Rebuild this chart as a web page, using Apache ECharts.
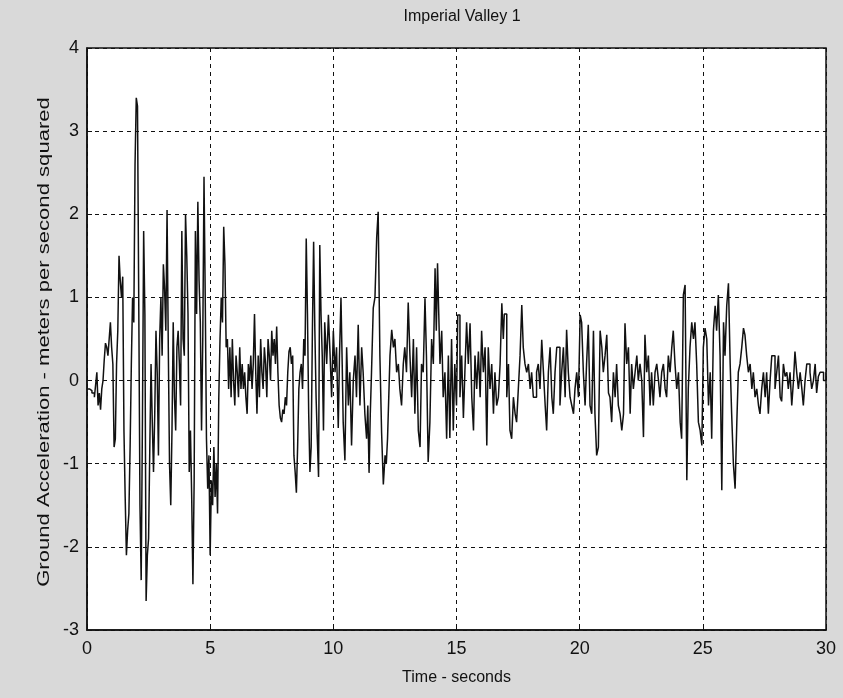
<!DOCTYPE html>
<html>
<head>
<meta charset="utf-8">
<script src="https://cdn.jsdelivr.net/npm/echarts@6/dist/echarts.min.js"></script>
<style>
html,body{margin:0;padding:0;background:#d9d9d9;}
#c{width:843px;height:698px;}
</style>
</head>
<body>
<div id="c"></div>
<script>
var chartTitle = "Imperial Valley 1";
var xAxisName = "Time - seconds";
var yAxisName = "Ground Acceleration - meters per second squared";
var xTicks = [0, 5, 10, 15, 20, 25, 30];
var yTicks = [-3, -2, -1, 0, 1, 2, 3, 4];

var times = [
0.00,0.10,0.20,0.30,0.35,0.40,0.45,0.50,0.55,0.60,0.65,0.70,0.75,0.80,0.85,0.90,0.95,1.00,1.05,1.10,
1.15,1.20,1.25,1.30,1.35,1.40,1.45,1.50,1.55,1.60,1.65,1.70,1.75,1.80,1.85,1.90,1.95,2.00,2.05,2.10,
2.15,2.20,2.25,2.30,2.35,2.40,2.45,2.50,2.55,2.60,2.65,2.70,2.75,2.80,2.85,2.90,2.95,3.00,3.05,3.10,
3.15,3.20,3.25,3.30,3.35,3.40,3.45,3.50,3.55,3.60,3.65,3.70,3.75,3.80,3.85,3.90,3.95,4.00,4.05,4.10,
4.15,4.20,4.25,4.30,4.35,4.40,4.45,4.50,4.55,4.60,4.65,4.70,4.75,4.80,4.85,4.90,4.95,5.00,5.05,5.10,
5.15,5.20,5.25,5.30,5.35,5.40,5.45,5.50,5.55,5.60,5.65,
5.70,5.75,5.80,5.85,5.90,5.95,6.00,6.05,6.10,6.15,6.20,6.25,6.30,6.35,6.40,6.45,6.50,6.55,6.60,6.65,
6.70,6.75,6.80,6.85,6.90,6.95,7.00,7.05,7.10,7.15,7.20,7.25,7.30,7.35,7.40,7.45,7.50,7.55,7.60,7.65,
7.70,7.75,7.80,7.85,7.90,7.95,8.00,8.05,8.10,8.15,8.20,8.25,8.30,8.35,8.40,8.45,8.50,8.55,8.60,8.65,
8.70,8.75,8.80,8.85,8.90,8.95,9.00,9.05,9.10,9.15,9.20,9.25,9.30,9.35,9.40,9.45,9.50,9.55,9.60,9.65,
9.73,9.80,9.87,9.93,10.00,10.07,10.13,10.20,10.25,10.31,10.36,10.40,10.47,10.54,10.61,10.67,10.74,10.81,10.88,10.94,
11.01,11.08,11.15,11.21,11.28,11.35,11.40,11.45,11.50,11.55,11.62,11.69,11.76,11.82,11.89,11.96,12.03,12.10,12.15,12.20,
12.25,12.30,12.37,12.44,12.50,12.57,12.64,12.70,12.77,12.84,12.90,12.97,13.04,13.11,13.18,13.25,13.31,13.38,13.45,13.52,
13.58,13.65,13.72,13.78,13.85,13.92,13.99,14.06,14.13,14.18,14.23,14.28,14.33,14.40,14.46,14.53,14.60,14.67,14.73,14.80,
14.87,14.93,15.00,15.05,15.14,15.21,15.28,15.34,15.41,15.48,15.55,15.62,15.69,15.75,15.82,15.89,15.96,16.02,16.09,16.16,
16.23,16.29,16.36,16.43,16.50,16.56,16.63,16.70,16.77,16.84,16.90,16.94,17.04,17.11,17.17,17.24,17.31,17.38,17.44,17.51,
17.58,17.65,17.71,17.78,17.85,17.92,17.99,18.05,18.12,18.19,18.25,18.32,18.39,18.46,18.53,18.60,18.66,18.73,18.80,18.87,
18.93,19.00,19.07,19.14,19.20,19.27,19.34,19.41,19.47,19.54,19.61,19.68,19.75,19.81,19.88,19.95,20.02,20.08,20.15,20.22,
20.28,20.35,20.42,20.49,20.56,20.62,20.69,20.76,20.83,20.90,20.96,21.03,21.10,21.17,21.23,21.30,21.37,21.44,21.50,21.57,
21.64,21.71,21.78,21.84,21.91,21.98,22.05,22.11,22.18,22.25,22.32,22.38,22.45,22.52,22.59,22.65,22.72,22.79,22.86,22.92,
22.99,23.06,23.13,23.20,23.26,23.33,23.40,23.47,23.53,23.60,23.67,23.74,23.80,23.87,23.94,24.01,24.08,24.14,24.21,24.28,
24.35,24.41,24.48,24.55,24.62,24.68,24.75,24.82,24.89,24.96,25.02,25.09,25.16,25.23,25.30,25.36,25.43,25.50,25.56,25.63,
25.70,25.77,25.84,25.90,25.97,26.04,26.11,26.17,26.24,26.31,26.38,26.44,26.51,26.58,26.65,26.71,26.78,26.85,26.92,26.99,
27.05,27.12,27.19,27.26,27.32,27.39,27.46,27.53,27.59,27.66,27.73,27.80,27.87,27.93,28.00,28.07,28.14,28.20,28.27,28.34,
28.41,28.47,28.54,28.61,28.68,28.74,28.81,28.88,28.95,29.02,29.08,29.15,29.22,29.29,29.35,29.42,29.49,29.56,29.62,29.69,
29.76,29.83,29.90,30.00
];

var accel = [
-0.10,-0.12,-0.15,-0.20,-0.05,0.10,-0.30,-0.15,-0.35,-0.10,0.00,0.25,0.45,0.40,0.30,0.50,0.70,0.40,0.20,-0.80,
-0.70,0.20,0.60,1.50,1.20,1.00,1.25,-0.60,-1.40,-2.10,-1.80,-1.60,-0.80,0.20,1.00,0.70,2.60,3.40,3.30,1.00,
-1.50,-2.40,-0.50,1.80,0.80,-2.65,-2.10,-1.90,-0.80,0.20,-0.50,-1.10,-0.40,0.60,0.10,-0.90,0.50,1.00,0.30,1.40,
1.10,0.60,2.05,0.40,-1.00,-1.50,-0.60,0.70,-0.20,-0.60,0.40,0.60,0.20,-0.30,1.80,0.50,0.30,2.00,1.50,0.80,
-1.10,-0.60,-1.40,-2.45,-1.20,1.80,0.80,2.15,1.20,0.70,-0.60,0.50,2.45,1.00,-0.70,-1.30,-0.90,-2.10,-1.20,-1.50,
-0.80,-1.40,-1.00,-1.60,-0.20,0.50,1.00,0.70,1.85,1.40,0.40,
0.50,-0.10,0.40,-0.20,0.50,0.00,-0.30,0.30,0.10,-0.20,0.40,-0.10,0.20,-0.10,0.10,-0.20,-0.40,0.20,0.00,0.30,
-0.10,0.20,0.80,0.10,-0.40,0.30,-0.20,0.50,0.10,-0.10,0.40,0.20,-0.20,0.50,0.30,0.00,0.60,0.30,0.50,0.20,
0.65,0.10,-0.30,-0.45,-0.50,-0.35,-0.40,-0.20,-0.30,0.10,0.35,0.40,0.20,0.30,-0.90,-1.10,-1.35,-0.80,-0.10,0.10,
0.20,-0.10,0.50,0.30,1.71,0.80,-0.40,-1.10,-0.80,0.60,1.67,0.60,-0.20,-0.70,-1.16,1.63,0.80,0.30,-0.60,0.70,
0.20,0.79,0.30,-0.20,0.60,0.10,0.40,-0.57,0.30,1.00,0.20,-0.50,-0.96,0.40,-0.30,0.10,-0.78,0.00,0.30,-0.20,
0.67,-0.30,0.40,0.10,-0.40,-0.70,-0.30,-1.11,-0.40,0.10,0.87,1.00,1.72,2.03,0.30,-0.63,-1.25,-0.90,-1.00,-0.70,
-0.20,0.30,0.61,0.40,0.50,0.10,0.20,-0.10,-0.30,0.20,0.40,0.10,0.94,0.30,-0.20,0.50,-0.40,0.40,-0.60,-0.80,
0.20,0.10,0.99,0.30,-0.98,-0.50,0.50,0.20,1.35,0.60,1.41,0.80,0.20,0.60,-0.20,0.10,-0.70,0.30,-0.69,0.50,
-0.60,0.20,-0.30,0.79,-0.20,0.30,-0.45,0.10,0.70,0.20,0.69,-0.20,-0.60,0.30,-0.10,0.35,-0.20,0.60,0.10,0.40,
-0.78,0.40,-0.10,0.20,-0.40,0.10,-0.30,-0.20,0.20,0.93,0.50,0.80,-0.20,0.20,-0.60,-0.70,-0.20,-0.40,-0.50,-0.10,
0.30,0.91,0.40,0.20,0.10,0.20,-0.10,0.10,-0.20,-0.20,0.10,0.20,-0.10,0.49,0.10,-0.30,-0.60,0.10,0.40,-0.20,
-0.40,0.10,0.40,0.40,-0.30,0.10,0.40,-0.20,0.61,0.10,-0.20,-0.30,-0.40,-0.10,0.10,-0.20,0.79,0.70,0.10,-0.30,
0.20,0.67,-0.30,-0.40,0.60,-0.40,-0.90,-0.80,0.60,0.40,0.10,0.30,0.55,-0.15,-0.20,-0.50,0.10,-0.20,0.20,-0.30,
-0.40,-0.60,-0.40,0.69,0.20,0.40,-0.40,0.20,-0.10,0.10,0.30,0.00,0.20,0.00,-0.68,0.55,0.10,0.30,-0.30,0.10,
-0.30,0.10,0.20,0.00,-0.20,0.10,0.20,-0.10,-0.20,0.30,0.10,0.40,0.60,0.20,-0.10,0.10,-0.50,-0.70,1.03,1.15,
-1.20,-0.10,0.40,0.70,0.50,0.70,0.20,-0.50,-0.60,-0.78,0.40,0.63,0.50,-0.30,0.10,-0.70,0.60,0.90,0.60,1.03,
0.30,-1.32,0.70,0.30,0.90,1.17,0.20,-0.40,-1.00,-1.30,-0.50,0.10,0.20,0.40,0.63,0.55,0.30,0.10,0.20,-0.10,
0.10,-0.20,-0.10,-0.30,-0.40,-0.10,0.10,-0.20,0.10,-0.40,0.00,0.30,0.30,-0.10,0.10,0.30,-0.20,-0.25,0.20,0.05,
0.10,-0.10,0.10,-0.30,0.00,0.35,0.10,-0.10,0.10,-0.10,-0.30,0.00,0.20,0.20,0.10,-0.10,0.00,0.20,-0.15,0.05,
0.10,0.10,0.00,0.10
];

var seriesData = times.map(function (t, i) { return [t, accel[i]]; });

var chart = echarts.init(document.getElementById('c'), null, {renderer: 'canvas'});
var fontFam = '"Liberation Sans", Arial, sans-serif';
chart.setOption({
  backgroundColor: '#d9d9d9',
  animation: false,
  title: {
    text: chartTitle,
    left: 457, top: 4, textAlign: 'center',
    textStyle: {fontFamily: fontFam, fontSize: 16, fontWeight: 'normal', color: '#111'}
  },
  grid: {
    left: 87, right: 17, top: 48, bottom: 68,
    show: true, backgroundColor: '#ffffff', borderColor: '#111', borderWidth: 1.5
  },
  graphic: [{
    type: 'text',
    x: 45, y: 342,
    rotation: Math.PI / 2,
    scaleX: 1.38,
    style: {
      text: yAxisName,
      fontFamily: fontFam, fontSize: 16,
      fill: '#111',
      align: 'center', verticalAlign: 'middle'
    }
  }],
  xAxis: {
    type: 'value', min: 0, max: 30, interval: 5,
    name: xAxisName, nameLocation: 'middle', nameGap: 40,
    nameTextStyle: {fontFamily: fontFam, fontSize: 16, color: '#111'},
    axisLine: {show: true, onZero: false, lineStyle: {color: '#111', width: 1.5}},
    axisTick: {show: true, inside: true, length: 5, lineStyle: {color: '#111'}},
    axisLabel: {fontFamily: fontFam, fontSize: 18, color: '#111', margin: 10,
      formatter: function (v) { return xTicks.indexOf(v) >= 0 ? String(v) : ''; }},
    splitLine: {show: true, lineStyle: {color: '#111', type: [4, 4], width: 1}}
  },
  yAxis: {
    type: 'value', min: -3, max: 4, interval: 1,
    axisLine: {show: true, onZero: false, lineStyle: {color: '#111', width: 1.5}},
    axisTick: {show: true, inside: true, length: 5, lineStyle: {color: '#111'}},
    axisLabel: {fontFamily: fontFam, fontSize: 18, color: '#111', margin: 8,
      formatter: function (v) { return yTicks.indexOf(v) >= 0 ? String(v) : ''; }},
    splitLine: {show: true, lineStyle: {color: '#111', type: [4, 4], width: 1}}
  },
  series: [{
    type: 'line',
    data: seriesData,
    step: 'end',
    showSymbol: false,
    symbol: 'none',
    lineStyle: {color: '#111', width: 1.5},
    z: 3
  }]
});
</script>
</body>
</html>
